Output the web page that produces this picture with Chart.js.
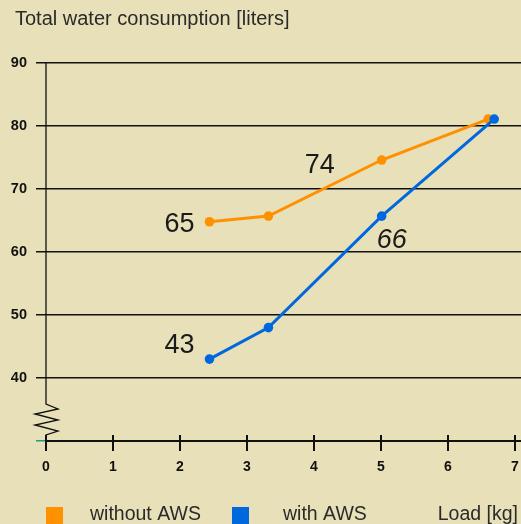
<!DOCTYPE html>
<html>
<head>
<meta charset="utf-8">
<script src="https://cdn.jsdelivr.net/npm/chart.js@4"></script>
<style>
  html, body { margin: 0; padding: 0; background: #e8e0b9; }
  #wrap { width: 521px; height: 524px; position: relative; }
</style>
</head>
<body>
<div id="wrap"><canvas id="c" width="521" height="524"></canvas></div>
<script>
// ---- data ----
const loadWithout = [2.44, 3.32, 5.01, 6.60];
const waterWithout = [64.8, 65.7, 74.6, 81.1];
const loadWith = [2.44, 3.32, 5.01, 6.69];
const waterWith = [43.0, 48.0, 65.7, 81.1];
const seriesNames = ['without AWS', 'with AWS'];
const xTickValues = [0, 1, 2, 3, 4, 5, 6, 7];
const yTickValues = [30, 40, 50, 60, 70, 80, 90];
const titleText = 'Total water consumption [liters]';
const xAxisTitle = 'Load [kg]';
// value callouts: [series index, point index, text]
const callouts = [[0, 0, '65'], [0, 2, '74'], [1, 2, '66'], [1, 0, '43']];

const ORANGE = '#ff9000';
const BLUE = '#0068de';
const INK = '#111111';
const TEXT = '#2a2a2a';
const FONT = '"Liberation Sans", Arial, Helvetica, sans-serif';

const toPts = (xs, ys) => xs.map((x, i) => ({ x: x, y: ys[i] }));

const calloutStyle = {
  '0-0': { dx: -30, dy: 3, italic: false },
  '0-2': { dx: -62, dy: 5.5, italic: false },
  '1-2': { dx: 10, dy: 24, italic: true },
  '1-0': { dx: -30, dy: -14, italic: false }
};

const decor = {
  id: 'decor',
  beforeDatasetsDraw(chart) {
    const ctx = chart.ctx;
    const xs = chart.scales.x, ys = chart.scales.y;
    const ax = xs.getPixelForValue(0);
    const bottom = ys.getPixelForValue(30);
    const top = ys.getPixelForValue(90);
    ctx.save();
    ctx.strokeStyle = INK;
    ctx.lineWidth = 1.3;
    const zz = [[0, -37], [12, -32], [-11, -27], [12, -21], [-11, -16], [12, -10], [0, -6], [0, 0]];
    ctx.beginPath();
    ctx.moveTo(ax, top);
    zz.forEach(p => ctx.lineTo(ax + p[0], bottom + p[1]));
    ctx.stroke();
    ctx.lineWidth = 2;
    xs.ticks.forEach(t => {
      const px = Math.round(xs.getPixelForValue(t.value));
      ctx.beginPath();
      ctx.moveTo(px, bottom - 6);
      ctx.lineTo(px, bottom);
      ctx.stroke();
    });
    ctx.restore();
  },
  afterDatasetsDraw(chart) {
    const ctx = chart.ctx;
    ctx.save();
    ctx.fillStyle = '#1a1a1a';
    ctx.textAlign = 'center';
    ctx.textBaseline = 'middle';
    callouts.forEach(c => {
      const el = chart.getDatasetMeta(c[0]).data[c[1]];
      const st = calloutStyle[c[0] + '-' + c[1]];
      ctx.font = (st.italic ? 'italic ' : '') + '27px ' + FONT;
      ctx.fillText(c[2], el.x + st.dx, el.y + st.dy);
    });
    ctx.restore();
  },
  afterDraw(chart) {
    const ctx = chart.ctx;
    ctx.save();
    ctx.textBaseline = 'middle';
    ctx.textAlign = 'left';
    ctx.fillStyle = TEXT;
    ctx.font = '20px ' + FONT;
    ctx.fillText(titleText, 15, 19.5);
    const items = [[46, 90, ORANGE, seriesNames[0]], [232, 283, BLUE, seriesNames[1]]];
    ctx.font = '19.5px ' + FONT;
    items.forEach(it => {
      ctx.fillStyle = it[2];
      ctx.fillRect(it[0], 507, 17, 17);
      ctx.fillStyle = TEXT;
      ctx.fillText(it[3], it[1], 514.5);
    });
    ctx.textAlign = 'right';
    ctx.fillText(xAxisTitle, 518, 514.5);
    ctx.restore();
  }
};

new Chart(document.getElementById('c'), {
  type: 'line',
  data: {
    datasets: [
      {
        label: seriesNames[0],
        data: toPts(loadWithout, waterWithout),
        borderColor: ORANGE, backgroundColor: ORANGE,
        borderWidth: 3, pointRadius: 4.8, pointBorderWidth: 0,
        tension: 0, order: 2
      },
      {
        label: seriesNames[1],
        data: toPts(loadWith, waterWith),
        borderColor: BLUE, backgroundColor: BLUE,
        borderWidth: 3, pointRadius: 4.8, pointBorderWidth: 0,
        tension: 0, order: 1
      }
    ]
  },
  options: {
    responsive: false,
    animation: false,
    events: [],
    layout: { autoPadding: false, padding: { left: 0, right: 0, top: 63, bottom: 0 } },
    plugins: {
      legend: { display: false },
      tooltip: { enabled: false },
      title: { display: false }
    },
    scales: {
      x: {
        type: 'linear', min: 0, max: 7.09,
        afterBuildTicks: s => { s.ticks = xTickValues.map(v => ({ value: v })); },
        afterFit: s => { s.height = 83; s.paddingLeft = 0; s.paddingRight = 0; },
        ticks: {
          color: INK, padding: 8, maxRotation: 0, autoSkip: false,
          font: { family: FONT, size: 14, weight: 'bold' }
        },
        grid: { display: true, drawOnChartArea: false, drawTicks: true, tickLength: 10, color: INK, lineWidth: 2 },
        border: { display: true, color: INK, width: 2 },
        title: { display: false }
      },
      y: {
        type: 'linear', min: 30, max: 90,
        afterBuildTicks: s => { s.ticks = yTickValues.map(v => ({ value: v })); },
        afterFit: s => { s.width = 46; s.paddingTop = 0; s.paddingBottom = 0; },
        ticks: {
          color: INK, padding: 9,
          font: { family: FONT, size: 14.5, weight: 'bold' },
          callback: v => (v === 30 ? '' : String(v))
        },
        grid: {
          color: c => (c.tick && c.tick.value === 30 ? '#1e9e8a' : INK),
          lineWidth: 1.5, tickLength: 10, drawTicks: true
        },
        border: { display: false }
      }
    }
  },
  plugins: [decor]
});
</script>
</body>
</html>
